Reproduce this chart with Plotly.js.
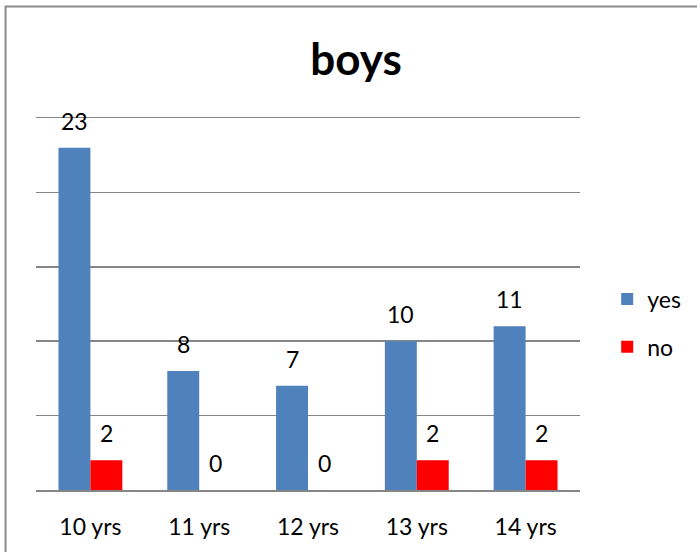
<!DOCTYPE html>
<html>
<head>
<meta charset="utf-8">
<script src="https://cdn.plot.ly/plotly-3.0.1.min.js"></script>
<style>
html,body{margin:0;padding:0;background:#fff;}
#chart{width:697px;height:552px;}
</style>
</head>
<body>
<div id="chart"></div>
<script>
const categories = ["10 yrs", "11 yrs", "12 yrs", "13 yrs", "14 yrs"];
const yesValues = [23, 8, 7, 10, 11];
const noValues = [2, 0, 0, 2, 2];
const seriesNames = ["yes", "no"];
const seriesColors = ["#4F81BD", "#FF0000"];
const chartTitle = "boys";

const FONT = "Lato, Calibri, Carlito, 'Open Sans', sans-serif";
const barShift = 16;

const traces = [
  {type: "bar", name: seriesNames[0], x: categories, y: yesValues,
   marker: {color: seriesColors[0]}, legendgroup: "a", hoverinfo: "none"},
  {type: "bar", name: seriesNames[1], x: categories, y: noValues,
   marker: {color: seriesColors[1]}, legendgroup: "b", hoverinfo: "none"}
];

const annotations = [];
[yesValues, noValues].forEach((vals, si) => {
  vals.forEach((v, i) => {
    annotations.push({
      x: categories[i], y: v, xref: "x", yref: "y",
      text: String(v), showarrow: false,
      xanchor: "center", yanchor: "bottom",
      xshift: si === 0 ? -barShift : barShift, yshift: 11,
      font: {family: FONT, size: 23, color: "#000"}
    });
  });
});

const layout = {
  width: 697, height: 552,
  paper_bgcolor: "#fff", plot_bgcolor: "#fff",
  margin: {l: 35.5, r: 116.5, t: 118, b: 62, pad: 0, autoexpand: false},
  title: {text: "<b>" + chartTitle + "</b>", font: {family: FONT, size: 44, color: "#000"},
          x: 356 / 697, xref: "container", xanchor: "center",
          y: 1 - 60 / 552, yref: "container", yanchor: "middle"},
  barmode: "group", bargap: 0.413, bargroupgap: 0,
  xaxis: {type: "category", showgrid: false, zeroline: false,
          showline: true, mirror: true, linecolor: "#868686", linewidth: 1.5,
          ticks: "", ticklabelstandoff: 16,
          tickfont: {family: FONT, size: 23, color: "#000"}},
  yaxis: {range: [0, 25], dtick: 5, tick0: 0, showticklabels: false,
          showgrid: true, gridcolor: "#868686", gridwidth: 1.5,
          zeroline: false, showline: false, ticks: "", fixedrange: true},
  showlegend: true,
  legend: {x: 1.05, xanchor: "left", y: 0.449, yanchor: "middle",
           font: {family: FONT, size: 23, color: "#000"},
           tracegroupgap: 15, traceorder: "grouped", bgcolor: "rgba(0,0,0,0)"},
  annotations: annotations,
  shapes: [{type: "rect", xref: "paper", yref: "paper",
            x0: (5 - 35.5) / 545, x1: (720 - 35.5) / 545,
            y0: (490 - 580) / 372, y1: 1 + (118 - 6.5) / 372,
            line: {color: "#8C8C8C", width: 2}, fillcolor: "rgba(0,0,0,0)", layer: "below"}]
};

Plotly.newPlot("chart", traces, layout, {displayModeBar: false, staticPlot: true});
</script>
</body>
</html>
